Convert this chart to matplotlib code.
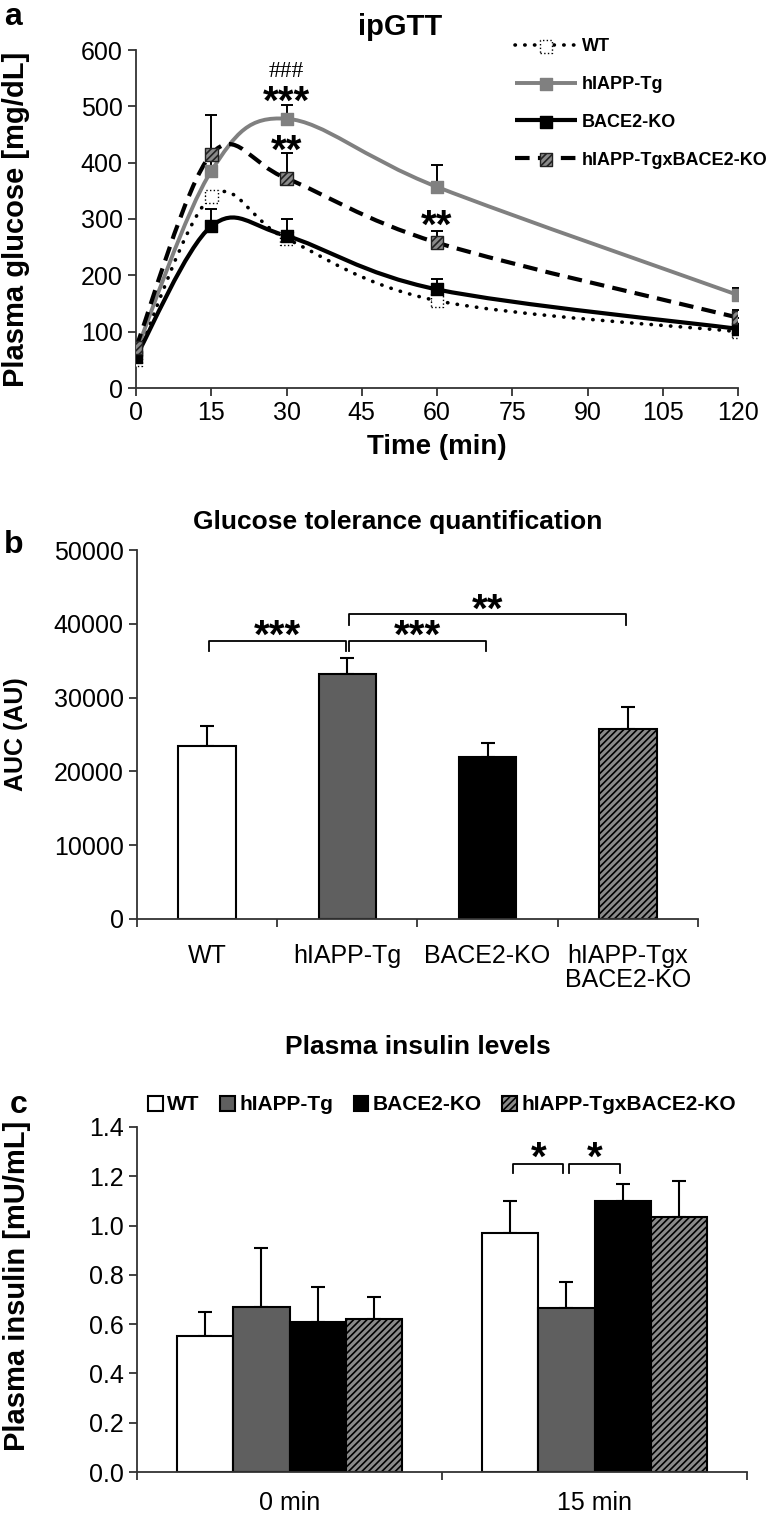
import numpy as np
import matplotlib
matplotlib.use('Agg')
import matplotlib.pyplot as plt
from matplotlib.path import Path
from matplotlib.patches import PathPatch
from matplotlib.legend_handler import HandlerTuple
from matplotlib.lines import Line2D

plt.rcParams['font.family'] = ['Liberation Sans', 'DejaVu Sans']
plt.rcParams['hatch.linewidth'] = 1.2

# ---------------- data ----------------
groups = ['WT', 'hIAPP-Tg', 'BACE2-KO', 'hIAPP-TgxBACE2-KO']

# a: ipGTT
time = [0, 15, 30, 60, 120]
gluc_wt = [50, 340, 265, 155, 100]
gluc_tg = [65, 385, 478, 357, 165]
gluc_ko = [55, 287, 270, 175, 105]
gluc_tgko = [72, 415, 372, 258, 125]
err_wt = [0, 0, 0, 0, 0]
err_tg = [5, 20, 25, 38, 13]
err_ko = [5, 30, 30, 18, 8]
err_tgko = [5, 70, 45, 20, 14]

# b: AUC
auc_labels = ['WT', 'hIAPP-Tg', 'BACE2-KO', 'hIAPP-Tgx\nBACE2-KO']
auc = [23500, 33200, 22000, 25700]
auc_err = [2700, 2100, 1800, 3000]

# c: insulin
ins_times = ['0 min', '15 min']
ins_wt = [0.55, 0.97]
ins_tg = [0.67, 0.665]
ins_ko = [0.61, 1.10]
ins_tgko = [0.62, 1.035]
ins_wt_err = [0.10, 0.13]
ins_tg_err = [0.24, 0.105]
ins_ko_err = [0.14, 0.07]
ins_tgko_err = [0.09, 0.145]

W, H = 774, 1516
fig = plt.figure(figsize=(W / 100, H / 100), dpi=100)


def rect(l, t, r, b):
    return [l / W, 1 - b / H, (r - l) / W, (b - t) / H]


def smooth(x, y):
    # excel-style smoothed line (catmull-rom bezier through the points)
    p = np.column_stack([x, y]).astype(float)
    verts = [p[0]]
    codes = [Path.MOVETO]
    for i in range(len(p) - 1):
        p0 = p[i - 1] if i > 0 else p[i]
        p3 = p[i + 2] if i + 2 < len(p) else p[i + 1]
        verts += [p[i] + (p[i + 1] - p0) / 6, p[i + 1] - (p3 - p[i]) / 6, p[i + 1]]
        codes += [Path.CURVE4] * 3
    return Path(verts, codes)


def style_axes(ax):
    for s in ['top', 'right']:
        ax.spines[s].set_visible(False)
    for s in ['left', 'bottom']:
        ax.spines[s].set_linewidth(1.3)
        ax.spines[s].set_color('#333333')
    ax.tick_params(width=1.3, length=6, labelsize=18, color='#333333')


# ---------------- a ----------------
ax = fig.add_axes(rect(136, 50, 738, 388))
style_axes(ax)
series = [
    (gluc_wt, err_wt, dict(color='black', lw=2.6, ls=(0, (0.1, 2.6))),
     dict(facecolor='white', edgecolor='black', linestyles=':', hatch=None)),
    (gluc_tg, err_tg, dict(color='#808080', lw=2.8, ls='-'),
     dict(facecolor='#808080', edgecolor='#808080', linestyles='-', hatch=None)),
    (gluc_ko, err_ko, dict(color='black', lw=3.0, ls='-'),
     dict(facecolor='black', edgecolor='black', linestyles='-', hatch=None)),
    (gluc_tgko, err_tgko, dict(color='black', lw=3.0, ls=(0, (3.5, 2.0))),
     dict(facecolor='#8a8a8a', edgecolor='#222222', linestyles='-', hatch='/////')),
]
handles = []
for k, (y, e, ls, ms) in enumerate(series):
    pp = PathPatch(smooth(time, y), fill=False, edgecolor=ls['color'], lw=ls['lw'],
                   linestyle=ls['ls'], capstyle='round' if k == 0 else 'butt', zorder=2 + k)
    ax.add_patch(pp)
    ax.errorbar(time, y, yerr=[np.zeros(len(e)), e], fmt='none', ecolor='black',
                elinewidth=1.4, capsize=4, capthick=1.4, zorder=1.5)
    sc = ax.scatter(time, y, marker='s', s=85, facecolor=ms['facecolor'],
                    edgecolor=ms['edgecolor'], linewidths=1.0, linestyles=ms['linestyles'],
                    hatch=ms['hatch'], zorder=6 + k)
    ln = Line2D([], [], color=ls['color'], lw=ls['lw'], ls=ls['ls'],
                solid_capstyle='butt', dash_capstyle='round' if k == 0 else 'butt')
    handles.append((ln, sc))

ax.set_xlim(0, 120)
ax.set_ylim(0, 600)
ax.set_xticks(np.arange(0, 121, 15))
ax.set_yticks(np.arange(0, 601, 100))
ax.set_xlabel('Time (min)', fontsize=20, fontweight='bold', labelpad=6)
ax.set_ylabel('Plasma glucose [mg/dL]', fontsize=21, fontweight='bold')
ax.yaxis.set_label_coords(-(136 - 30) / 602, 0.5)
ax.text(30, 562, '###', ha='center', va='center', fontsize=17, family='Liberation Serif')
ax.text(30, 506, '***', ha='center', va='center', fontsize=29, fontweight='bold')
ax.text(30, 420, '**', ha='center', va='center', fontsize=29, fontweight='bold')
ax.text(60, 286, '**', ha='center', va='center', fontsize=29, fontweight='bold')
fig.text(400 / W, 1 - 27 / H, 'ipGTT', ha='center', va='center', fontsize=21, fontweight='bold')
fig.legend(handles, groups, handler_map={tuple: HandlerTuple(ndivide=1)},
           loc='upper left', bbox_to_anchor=(499 / W, 1 - 22 / H), frameon=False,
           scatterpoints=1, handlelength=3.4, handletextpad=0.3, labelspacing=1.15,
           prop=dict(size=13, weight='bold'))
fig.text(4 / W, 1 - 2 / H, 'a', ha='left', va='top', fontsize=23, fontweight='bold')

# ---------------- b ----------------
ax = fig.add_axes(rect(137, 550, 698, 919))
style_axes(ax)
xb = np.arange(len(auc))
bar_styles = [dict(color='white', hatch=None), dict(color='#5f5f5f', hatch=None),
              dict(color='black', hatch=None), dict(color='#8a8a8a', hatch='/////')]
for i in range(len(auc)):
    ax.bar(xb[i], auc[i], width=0.41, color=bar_styles[i]['color'], edgecolor='black',
           linewidth=1.5, hatch=bar_styles[i]['hatch'], zorder=2)
ax.errorbar(xb, auc, yerr=[np.zeros(len(auc)), auc_err], fmt='none', ecolor='black',
            elinewidth=1.5, capsize=5, capthick=1.5, zorder=1)
ax.set_xlim(-0.5, 3.5)
ax.set_ylim(0, 50000)
ax.set_yticks(np.arange(0, 50001, 10000))
ax.set_xticks(np.arange(-0.5, 3.6, 1))
ax.set_xticklabels([])
ax.set_xticks(xb, minor=True)
ax.set_xticklabels(auc_labels, minor=True, fontsize=18, va='top', linespacing=1.0)
ax.tick_params(axis='x', which='minor', length=0, pad=18)
ax.set_ylabel('AUC (AU)', fontsize=18, fontweight='bold')
ax.yaxis.set_label_coords(-(137 - 28) / 561, 0.5)

brackets_b = [(0, 1, 37700, '***'), (1, 2, 37700, '***'), (1, 3, 41300, '**')]
for a0, a1, h, lab in brackets_b:
    x0, x1 = a0 + 0.01, a1 - 0.01
    ax.plot([x0, x0, x1, x1], [h - 1400, h, h, h - 1400], color='black', lw=1.3)
    ax.text((x0 + x1) / 2, h + 500, lab, ha='center', va='center', fontsize=29, fontweight='bold')
fig.text(398 / W, 1 - 522 / H, 'Glucose tolerance quantification', ha='center', va='center',
         fontsize=19, fontweight='bold')
fig.text(4 / W, 1 - 545 / H, 'b', ha='left', va='center', fontsize=23, fontweight='bold')

# ---------------- c ----------------
ax = fig.add_axes(rect(137, 1127, 747, 1472))
style_axes(ax)
xc = np.arange(len(ins_times))
w = 0.184
ins_vals = [ins_wt, ins_tg, ins_ko, ins_tgko]
ins_errs = [ins_wt_err, ins_tg_err, ins_ko_err, ins_tgko_err]
for j in range(4):
    xs = xc + (j - 1.5) * w
    ax.bar(xs, ins_vals[j], width=w, color=bar_styles[j]['color'], edgecolor='black',
           linewidth=1.5, hatch=bar_styles[j]['hatch'], label=groups[j], zorder=2)
    ax.errorbar(xs, ins_vals[j], yerr=[np.zeros(2), ins_errs[j]], fmt='none', ecolor='black',
                elinewidth=1.5, capsize=5, capthick=1.5, zorder=1)
ax.set_xlim(-0.5, 1.5)
ax.set_ylim(0, 1.4)
ax.set_yticks(np.arange(0, 1.41, 0.2))
ax.set_yticklabels(['%.1f' % v for v in np.arange(0, 1.41, 0.2)])
ax.set_xticks([-0.5, 0.5, 1.5])
ax.set_xticklabels([])
ax.set_xticks(xc, minor=True)
ax.set_xticklabels(ins_times, minor=True, fontsize=18)
ax.tick_params(axis='x', which='minor', length=0, pad=14)
ax.set_ylabel('Plasma insulin [mU/mL]', fontsize=21, fontweight='bold')
ax.yaxis.set_label_coords(-(137 - 31) / 610, 0.54)

brackets_c = [(1 - 1.5 * w, 1 - 0.5 * w, 1.25, '*'), (1 - 0.5 * w, 1 + 0.5 * w, 1.25, '*')]
for x0, x1, h, lab in brackets_c:
    x0, x1 = x0 + 0.01, x1 - 0.01
    ax.plot([x0, x0, x1, x1], [h - 0.035, h, h, h - 0.035], color='black', lw=1.3)
    ax.text((x0 + x1) / 2, h + 0.02, lab, ha='center', va='center', fontsize=29, fontweight='bold')
fig.legend(loc='center', bbox_to_anchor=(442 / W, 1 - 1105 / H), ncol=4, frameon=False,
           handlelength=0.7, handleheight=0.7, handletextpad=0.2, columnspacing=1.0,
           prop=dict(size=15, weight='bold'))
fig.text(418 / W, 1 - 1047 / H, 'Plasma insulin levels', ha='center', va='center',
         fontsize=19, fontweight='bold')
fig.text(10 / W, 1 - 1105 / H, 'c', ha='left', va='center', fontsize=23, fontweight='bold')

fig.savefig('out.png', dpi=100)
